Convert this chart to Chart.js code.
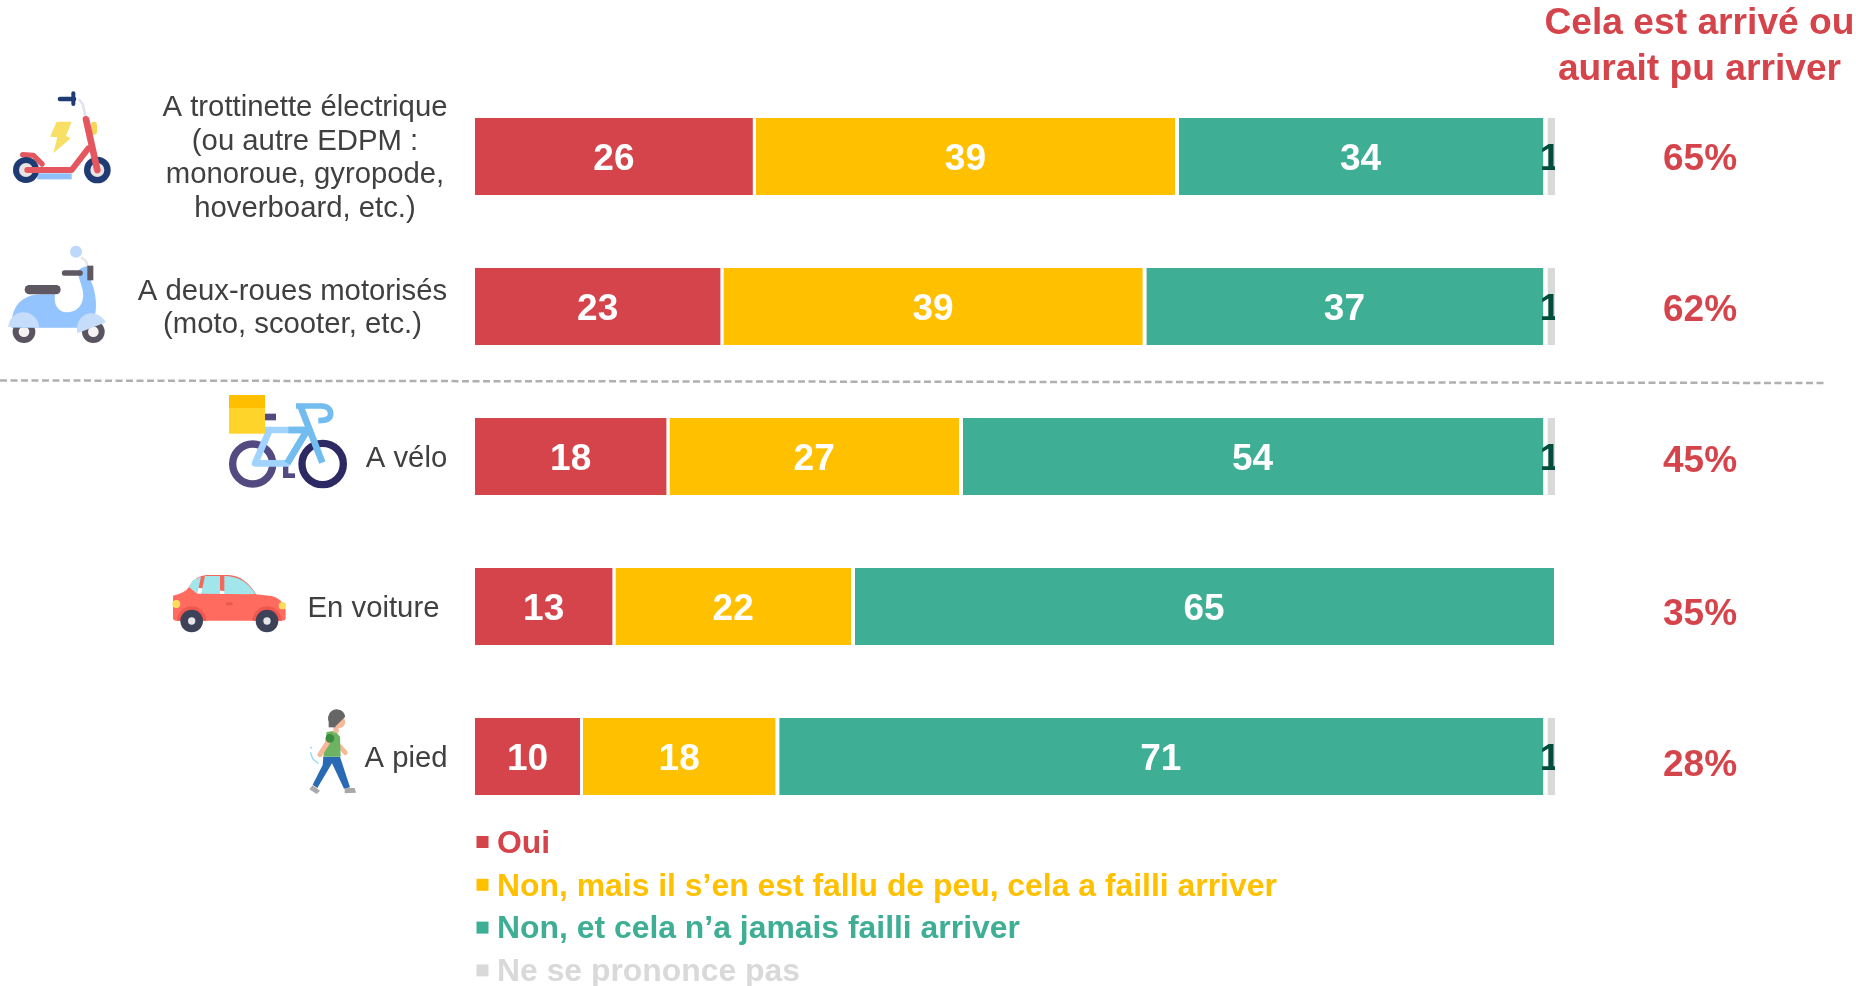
<!DOCTYPE html>
<html lang="fr">
<head>
<meta charset="utf-8">
<title>Cela est arrivé ou aurait pu arriver</title>
<style>
  html, body { margin: 0; padding: 0; background: #ffffff; }
  #wrap { position: relative; width: 1856px; height: 986px; overflow: hidden; }
</style>
<script src="https://cdn.jsdelivr.net/npm/chart.js@4/dist/chart.umd.min.js"></script>
</head>
<body>
<div id="wrap"><canvas id="chart"></canvas></div>
<script>
var categories = [
  "A trottinette électrique (ou autre EDPM : monoroue, gyropode, hoverboard, etc.)",
  "A deux-roues motorisés (moto, scooter, etc.)",
  "A vélo",
  "En voiture",
  "A pied",
];
var categoryLines = [
  ["A trottinette électrique", "(ou autre EDPM :", "monoroue, gyropode,", "hoverboard, etc.)"],
  ["A deux-roues motorisés", "(moto, scooter, etc.)"],
  ["A vélo"],
  ["En voiture"],
  ["A pied"],
];
var oui = [26, 23, 18, 13, 10];
var presque = [39, 39, 27, 22, 18];
var jamais = [34, 37, 54, 65, 71];
var nsp = [1, 1, 1, 0, 1];
var totals = ["65%", "62%", "45%", "35%", "28%"];
var seriesNames = [
  "Oui",
  "Non, mais il s’en est fallu de peu, cela a failli arriver",
  "Non, et cela n’a jamais failli arriver",
  "Ne se prononce pas",
];
var headerLines = ["Cela est arrivé ou", "aurait pu arriver"];

var FONT = '"Liberation Sans", Arial, sans-serif';
var RED = "#d6444b";
var YELLOW = "#ffc000";
var GREEN = "#3eae94";
var GREY = "#d9d9d9";

// label placement, kept apart from the data
var labelCenters = [305, 292.5, 406.5, 373.5, 406];
var totalOffsets = [3, 4, 5.5, 8.5, 9.5];

function poly(ctx, color, pts) {
  ctx.fillStyle = color;
  ctx.beginPath();
  pts.forEach(function (p, i) {
    if (i === 0) ctx.moveTo(p[0], p[1]);
    else ctx.lineTo(p[0], p[1]);
  });
  ctx.closePath();
  ctx.fill();
}

function stroke(ctx, color, width, pts, cap) {
  ctx.strokeStyle = color;
  ctx.lineWidth = width;
  ctx.lineCap = cap || "round";
  ctx.lineJoin = "round";
  ctx.beginPath();
  pts.forEach(function (p, i) {
    if (i === 0) ctx.moveTo(p[0], p[1]);
    else ctx.lineTo(p[0], p[1]);
  });
  ctx.stroke();
}

function disc(ctx, color, x, y, r) {
  ctx.fillStyle = color;
  ctx.beginPath();
  ctx.arc(x, y, r, 0, Math.PI * 2);
  ctx.fill();
}

function box(ctx, color, x0, y0, x1, y1) {
  ctx.fillStyle = color;
  ctx.fillRect(x0, y0, x1 - x0, y1 - y0);
}

// The icons are decoration, each drawn in a 3x local grid from its top-left corner.
function iconScooter(ctx) {
  stroke(ctx, "#e3e1f0", 8, [[238, 60], [248, 72], [258, 115]]);
  stroke(ctx, "#1f3b73", 14, [[180, 57], [222, 57]]);
  stroke(ctx, "#1f3b73", 12, [[220, 40], [220, 72]]);
  stroke(ctx, "#f9d35c", 18, [[282, 134], [282, 155]]);
  poly(ctx, "#f8e067", [[170, 125], [215, 125], [198, 168], [212, 175], [160, 220], [172, 172], [150, 170]]);
  box(ctx, "#8fc0fa", 112, 280, 215, 298);
  stroke(ctx, "#e4575f", 16, [[68, 224], [100, 226], [126, 252]]);
  disc(ctx, "#1f3b73", 78, 270, 39);
  disc(ctx, "#e9e4e4", 78, 270, 21);
  disc(ctx, "#1f3b73", 292, 270, 40);
  disc(ctx, "#e9e4e4", 292, 270, 21);
  stroke(ctx, "#e4575f", 18, [[82, 270], [215, 270], [265, 205]]);
  stroke(ctx, "#e4575f", 20, [[258, 118], [292, 270]]);
}

function iconMoto(ctx) {
  stroke(ctx, "#e6e6e6", 7, [[245, 68], [258, 78], [264, 98]]);
  disc(ctx, "#bcd9fb", 228, 50, 18);
  disc(ctx, "#5a5460", 72, 290, 34);
  disc(ctx, "#f4f2f2", 72, 290, 16);
  disc(ctx, "#5a5460", 280, 290, 34);
  disc(ctx, "#f4f2f2", 280, 290, 16);
  ctx.fillStyle = "#93c4fd";
  ctx.beginPath();
  ctx.moveTo(35, 270);
  ctx.bezierCurveTo(35, 210, 70, 180, 120, 178);
  ctx.lineTo(165, 178);
  ctx.bezierCurveTo(160, 210, 175, 232, 200, 232);
  ctx.bezierCurveTo(238, 232, 255, 200, 248, 165);
  ctx.lineTo(232, 112);
  ctx.quadraticCurveTo(240, 95, 265, 93);
  ctx.lineTo(272, 135);
  ctx.bezierCurveTo(290, 175, 292, 225, 282, 250);
  ctx.lineTo(240, 278);
  ctx.lineTo(35, 278);
  ctx.closePath();
  ctx.fill();
  stroke(ctx, "#5f5761", 17, [[194, 114], [240, 114]]);
  box(ctx, "#5f5761", 262, 92, 280, 136);
  stroke(ctx, "#5f5761", 28, [[88, 164], [168, 164]]);
  ctx.fillStyle = "#c6dcfb";
  ctx.beginPath();
  ctx.moveTo(24, 275);
  ctx.bezierCurveTo(30, 245, 50, 232, 68, 232);
  ctx.bezierCurveTo(95, 232, 115, 250, 118, 278);
  ctx.closePath();
  ctx.fill();
  ctx.beginPath();
  ctx.moveTo(232, 295);
  ctx.bezierCurveTo(225, 260, 250, 235, 272, 235);
  ctx.bezierCurveTo(295, 235, 310, 250, 318, 262);
  ctx.closePath();
  ctx.fill();
}

function iconVelo(ctx) {
  ctx.lineCap = "butt";
  ctx.lineWidth = 22;
  ctx.strokeStyle = "#524a80";
  ctx.beginPath();
  ctx.arc(98, 222, 60, 0, Math.PI * 2);
  ctx.stroke();
  ctx.strokeStyle = "#2d2a63";
  ctx.beginPath();
  ctx.arc(308, 222, 62, 0, Math.PI * 2);
  ctx.stroke();
  box(ctx, "#524a80", 130, 71, 168, 91);
  box(ctx, "#524a80", 189, 215, 205, 264);
  box(ctx, "#524a80", 189, 250, 225, 264);
  stroke(ctx, "#a0d4ff", 20, [[135, 120], [262, 120], [202, 220], [105, 220], [148, 122]], "butt");
  stroke(ctx, "#72bcf0", 20, [[205, 120], [262, 120]], "butt");
  stroke(ctx, "#72bcf0", 20, [[262, 120], [202, 220]], "butt");
  stroke(ctx, "#72bcf0", 20, [[240, 45], [307, 218]], "butt");
  ctx.strokeStyle = "#72bcf0";
  ctx.lineWidth = 17;
  ctx.beginPath();
  ctx.moveTo(228, 48);
  ctx.lineTo(305, 48);
  ctx.quadraticCurveTo(332, 50, 332, 72);
  ctx.quadraticCurveTo(332, 92, 295, 92);
  ctx.stroke();
  box(ctx, "#ffd42a", 27, 54, 135, 131);
  box(ctx, "#ffbe00", 27, 15, 135, 54);
}

function iconVoiture(ctx) {
  ctx.fillStyle = "#f4675c";
  ctx.beginPath();
  ctx.moveTo(72, 65);
  ctx.quadraticCurveTo(90, 32, 125, 30);
  ctx.lineTo(190, 30);
  ctx.quadraticCurveTo(240, 32, 275, 90);
  ctx.closePath();
  ctx.fill();
  poly(ctx, "#a0e6ea", [[72, 66], [84, 46], [108, 35], [97, 86]]);
  poly(ctx, "#a0e6ea", [[120, 33], [165, 33], [165, 88], [108, 88]]);
  ctx.fillStyle = "#a0e6ea";
  ctx.beginPath();
  ctx.moveTo(178, 33);
  ctx.quadraticCurveTo(238, 33, 272, 88);
  ctx.lineTo(178, 88);
  ctx.closePath();
  ctx.fill();
  ctx.fillStyle = "#ff6b5e";
  ctx.beginPath();
  ctx.moveTo(24, 160);
  ctx.lineTo(24, 92);
  ctx.quadraticCurveTo(58, 86, 72, 66);
  ctx.lineTo(97, 86);
  ctx.lineTo(272, 88);
  ctx.lineTo(320, 93);
  ctx.quadraticCurveTo(352, 100, 362, 135);
  ctx.lineTo(362, 158);
  ctx.quadraticCurveTo(362, 167, 350, 167);
  ctx.lineTo(34, 167);
  ctx.quadraticCurveTo(24, 167, 24, 160);
  ctx.closePath();
  ctx.fill();
  ctx.save();
  ctx.beginPath();
  ctx.rect(0, 0, 400, 167);
  ctx.clip();
  disc(ctx, "#f0584f", 80, 168, 44);
  disc(ctx, "#f0584f", 306, 168, 44);
  ctx.restore();
  disc(ctx, "#3e4259", 80, 168, 34);
  disc(ctx, "#e6e6ea", 80, 168, 11);
  disc(ctx, "#3e4259", 306, 168, 34);
  disc(ctx, "#e6e6ea", 306, 168, 11);
  disc(ctx, "#fbdc5a", 34, 117, 12);
  disc(ctx, "#fbdc5a", 352, 122, 11);
  stroke(ctx, "#f0584f", 9, [[187, 116], [199, 116]]);
}

function iconPied(ctx) {
  stroke(ctx, "#8fdcf2", 4, [[32, 158], [38, 176], [54, 190]]);
  disc(ctx, "#8fdcf2", 33, 143, 3);
  stroke(ctx, "#f5b899", 14, [[118, 138], [136, 158]]);
  poly(ctx, "#2a6ab5", [[70, 170], [120, 170], [150, 262], [132, 266], [96, 190], [52, 264], [38, 254], [68, 195]]);
  poly(ctx, "#a9a9a9", [[38, 256], [60, 272], [50, 282], [28, 268]]);
  poly(ctx, "#a9a9a9", [[134, 264], [164, 264], [168, 278], [134, 280]]);
  poly(ctx, "#6cb464", [[80, 96], [105, 92], [120, 110], [122, 170], [70, 170]]);
  stroke(ctx, "#f5b899", 15, [[84, 126], [60, 164]]);
  disc(ctx, "#3d8b3d", 90, 115, 13);
  box(ctx, "#f5b899", 100, 70, 116, 98);
  disc(ctx, "#f5b899", 118, 66, 18);
  ctx.fillStyle = "#666666";
  ctx.beginPath();
  ctx.arc(110, 54, 26, Math.PI * 0.55, Math.PI * 1.95);
  ctx.closePath();
  ctx.fill();
  box(ctx, "#666666", 86, 54, 106, 82);
}

var icons = [
  { draw: iconScooter, x: 0, y: 80 },
  { draw: iconMoto, x: 0, y: 235 },
  { draw: iconVelo, x: 220, y: 390 },
  { draw: iconVoiture, x: 165, y: 565 },
  { draw: iconPied, x: 300, y: 700 },
];

var sidePlugin = {
  id: "sideContent",
  afterDraw: function (chart) {
    var ctx = chart.ctx;
    var yScale = chart.scales.y;
    var area = chart.chartArea;

    ctx.save();

    // icons
    icons.forEach(function (icon) {
      ctx.save();
      ctx.filter = "blur(0.5px)";
      ctx.translate(icon.x, icon.y);
      ctx.scale(1 / 3, 1 / 3);
      icon.draw(ctx);
      ctx.restore();
    });

    // dashed separator
    ctx.strokeStyle = "#b0b0b0";
    ctx.lineWidth = 2.5;
    ctx.setLineDash([7, 3.5]);
    ctx.beginPath();
    ctx.moveTo(0, 380.5);
    ctx.lineTo(1825, 383);
    ctx.stroke();
    ctx.setLineDash([]);

    // values in the bars, the 1 of the grey part is cut at the bar end
    chart.data.datasets.forEach(function (dataset, i) {
      chart.getDatasetMeta(i).data.forEach(function (bar, j) {
        var value = dataset.data[j];
        if (!value) {
          return;
        }
        ctx.save();
        ctx.beginPath();
        ctx.rect(0, 0, area.right, chart.height);
        ctx.clip();
        ctx.font = "bold 37px " + FONT;
        ctx.textAlign = "center";
        ctx.textBaseline = "middle";
        ctx.fillStyle = dataset.valueColor;
        ctx.fillText(String(value), (bar.base + bar.x) / 2 - dataset.endGap / 2, bar.y + 3.5);
        ctx.restore();
      });
    });

    // category labels
    ctx.font = "29.3px " + FONT;
    ctx.fillStyle = "#404040";
    ctx.textAlign = "center";
    ctx.textBaseline = "middle";
    categoryLines.forEach(function (lines, i) {
      var cy = yScale.getPixelForValue(i) + 2;
      lines.forEach(function (line, k) {
        ctx.fillText(line, labelCenters[i], cy + (k - (lines.length - 1) / 2) * 33.7);
      });
    });

    // right column
    ctx.fillStyle = RED;
    ctx.font = "bold 37px " + FONT;
    totals.forEach(function (total, i) {
      ctx.fillText(total, 1700, yScale.getPixelForValue(i) + totalOffsets[i]);
    });
    ctx.font = "bold 37.2px " + FONT;
    headerLines.forEach(function (line, i) {
      ctx.fillText(line, 1699.5, 24 + i * 46);
    });

    // legend
    ctx.textAlign = "left";
    ctx.font = "bold 31.9px " + FONT;
    chart.data.datasets.forEach(function (dataset, i) {
      var ly = 842 + i * 42.8;
      ctx.fillStyle = dataset.backgroundColor;
      ctx.fillRect(476.5, ly - 6, 12, 12);
      ctx.fillText(dataset.label, 497, ly + 2);
    });

    ctx.restore();
  },
};

new Chart(document.getElementById("chart"), {
  type: "bar",
  data: {
    labels: categories,
    datasets: [
      { label: seriesNames[0], data: oui, backgroundColor: RED, valueColor: "#ffffff", endGap: 3, borderWidth: { right: 3 } },
      { label: seriesNames[1], data: presque, backgroundColor: YELLOW, valueColor: "#ffffff", endGap: 2, borderWidth: { right: 2 } },
      { label: seriesNames[2], data: jamais, backgroundColor: GREEN, valueColor: "#ffffff", endGap: 0, borderWidth: { left: 2, right: 1 } },
      { label: seriesNames[3], data: nsp, backgroundColor: GREY, valueColor: "#004d3c", endGap: -1, borderWidth: { left: 3.5 } },
    ],
  },
  options: {
    indexAxis: "y",
    responsive: true,
    maintainAspectRatio: false,
    animation: false,
    layout: { padding: { left: 475, right: 301, top: 81.5, bottom: 154.5 } },
    datasets: {
      bar: {
        categoryPercentage: 1,
        barPercentage: 0.513,
        borderColor: "#ffffff",
        borderSkipped: false,
        inflateAmount: 0,
      },
    },
    scales: {
      x: { stacked: true, display: false, min: 0, max: 100 },
      y: { stacked: true, display: false },
    },
    plugins: {
      legend: { display: false },
      tooltip: { enabled: false },
    },
  },
  plugins: [sidePlugin],
});
</script>
</body>
</html>
